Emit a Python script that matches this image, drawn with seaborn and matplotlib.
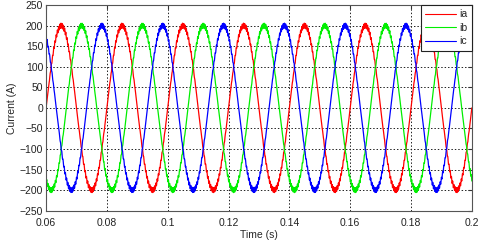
import numpy as np
import pandas as pd
import matplotlib
matplotlib.use("Agg")
import matplotlib.pyplot as plt
import seaborn as sns

# Values
phases = ["ia", "ib", "ic"]
amplitude_a = [200, 200, 200]          # peak current of each phase (A)
phase_deg = [0, -120, 120]             # phase angle of each phase
freq_hz = 50                           # one cycle every 0.02 s
ripple_a = 6                           # switching ripple seen on the traces (A)
ripple_hz = 2500
t_start, t_end = 0.06, 0.2
colors = {"ia": "#ff0000", "ib": "#00ee00", "ic": "#0000ff"}
xticks = [0.06, 0.08, 0.1, 0.12, 0.14, 0.16, 0.18, 0.2]
xtick_labels = ["0.06", "0.08", "0.1", "0.12", "0.14", "0.16", "0.18", "0.2"]
yticks = list(range(-250, 251, 50))

t = np.arange(t_start, t_end + 1e-9, 2e-5)
frames = []
for name, amp, ph in zip(phases, amplitude_a, phase_deg):
    w = 2 * np.pi * freq_hz * t + np.deg2rad(ph)
    i = amp * np.sin(w) + ripple_a * np.sin(2 * np.pi * ripple_hz * t + np.deg2rad(ph)) * np.abs(np.sin(w))
    frames.append(pd.DataFrame({"Time (s)": t, "Current (A)": i, "phase": name}))
df = pd.concat(frames, ignore_index=True)

sns.set_style("white")
plt.rcParams["font.family"] = ["Liberation Sans", "DejaVu Sans"]
plt.rcParams["font.size"] = 7.5

fig = plt.figure(figsize=(4.8, 2.4), dpi=100)
ax = fig.add_axes([0.096, 0.122, 0.887, 0.857])
sns.lineplot(data=df, x="Time (s)", y="Current (A)", hue="phase", palette=colors,
             estimator=None, linewidth=0.9, ax=ax)

ax.set_xlim(t_start, t_end)
ax.set_ylim(-250, 250)
ax.set_xticks(xticks)
ax.set_xticklabels(xtick_labels)
ax.set_yticks(yticks)
ax.grid(True, color="#222222", linestyle=(0, (1.5, 2)), linewidth=0.7)
ax.tick_params(direction="in", length=3, top=True, right=True, labelsize=7.5,
               colors="#333333", labelcolor="#222222")
ax.tick_params(axis="x", pad=5)
ax.tick_params(axis="y", pad=2)
for s in ax.spines.values():
    s.set_color("#555555")
    s.set_linewidth(0.8)
ax.set_xlabel("Time (s)", fontsize=7.5, labelpad=2)
ax.set_ylabel("Current (A)", fontsize=7.5, labelpad=2)

leg = ax.legend(loc="upper right", fontsize=7.5, frameon=True, fancybox=False,
                framealpha=1, handlelength=3.0, borderaxespad=0, borderpad=0.4,
                labelspacing=0.35, handletextpad=0.3)
leg.get_frame().set_edgecolor("#222222")
leg.get_frame().set_linewidth(0.8)
for line in leg.get_lines():
    line.set_linewidth(0.8)

fig.savefig("out.png", dpi=100)
